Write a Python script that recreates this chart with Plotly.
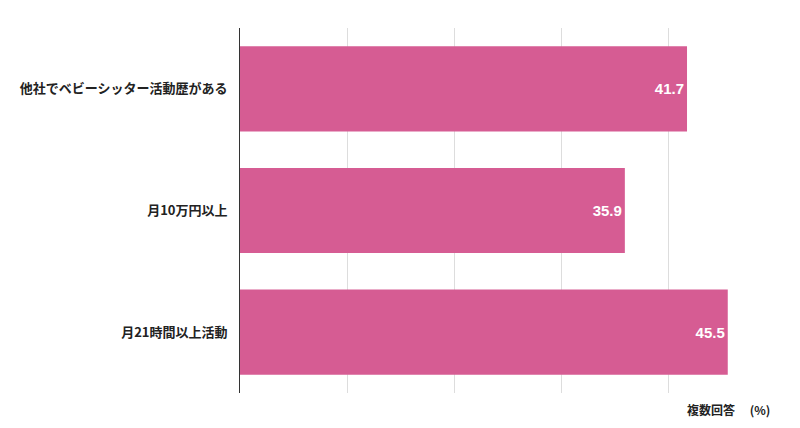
import plotly.graph_objects as go

# data
categories = ["他社でベビーシッター活動歴がある", "月10万円以上", "月21時間以上活動"]
values = [41.7, 35.9, 45.5]
bar_color = "#d65c93"

fig = go.Figure(go.Bar(
    y=categories,
    x=values,
    orientation="h",
    marker=dict(color=bar_color, line=dict(width=0)),
    width=0.7,
    text=[f"{v:.1f}" for v in values],
    textposition="inside",
    insidetextanchor="end",
    textfont=dict(color="white", size=15, family="Liberation Sans", weight="bold"),
))

# page has an 8px body margin, so the figure is kept a bit smaller than the window
fig.update_layout(
    width=784, height=412,
    margin=dict(l=232, r=16, t=20, b=27),
    plot_bgcolor="white",
    paper_bgcolor="white",
    showlegend=False,
    font=dict(family="Noto Sans CJK JP", color="#222"),
    annotations=[dict(
        text="複数回答　 (%)",
        xref="paper", yref="paper",
        x=0.992, y=-0.045,
        xanchor="right", yanchor="middle",
        showarrow=False,
        font=dict(size=12, color="#222", weight="bold"),
    )],
)

fig.update_xaxes(
    range=[0, 50],
    dtick=10,
    showticklabels=False,
    showgrid=True,
    gridcolor="#dddddd",
    gridwidth=1,
    zeroline=False,
    showline=False,
)

fig.update_yaxes(
    autorange="reversed",
    showline=True,
    linecolor="#333333",
    linewidth=1,
    ticks="",
    ticksuffix="   ",
    tickfont=dict(size=13, color="#222", weight="bold"),
)

fig.write_html("out.html")
